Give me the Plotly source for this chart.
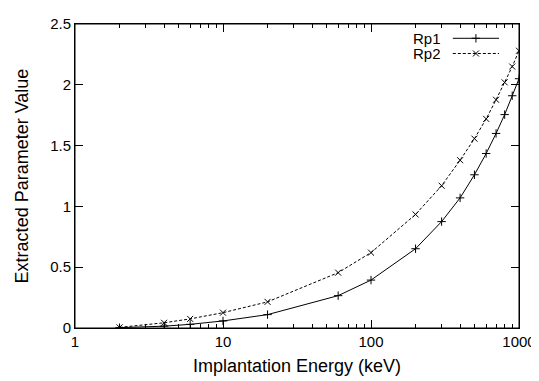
import plotly.graph_objects as go

energy = [2, 4, 6, 10, 20, 60, 100, 200, 300, 400, 500, 600, 700, 800, 900, 1000]
rp1 = [0.003, 0.015, 0.03, 0.058, 0.11, 0.266, 0.394, 0.652, 0.875, 1.07, 1.26, 1.435, 1.60, 1.755, 1.91, 2.05]
rp2 = [0.005, 0.043, 0.075, 0.126, 0.215, 0.455, 0.62, 0.934, 1.17, 1.38, 1.557, 1.72, 1.877, 2.02, 2.15, 2.28]
series_names = ["Rp1", "Rp2"]
x_tickvals = [1, 10, 100, 1000]
x_ticktext = ["1", "10", "100", "1000"]
y_tickvals = [0, 0.5, 1, 1.5, 2, 2.5]

FONT = "Liberation Sans, Arial, sans-serif"
FS = 15

fig = go.Figure()
fig.add_trace(go.Scatter(
    x=energy, y=rp1, mode="lines+markers", name=series_names[0],
    line=dict(color="black", width=1),
    marker=dict(symbol="cross-thin", size=6, line=dict(color="black", width=1)),
    showlegend=False))
fig.add_trace(go.Scatter(
    x=energy, y=rp2, mode="lines+markers", name=series_names[1],
    line=dict(color="black", width=1, dash="3px,2px"),
    marker=dict(symbol="x-thin", size=6, line=dict(color="black", width=1)),
    showlegend=False))

# legend samples (gnuplot style: text left, sample right) on an overlay axis
leg_y = [0.953, 0.903]
styles = [("solid", "cross-thin"), ("3px,2px", "x-thin")]
for name, ly, (dash, sym) in zip(series_names, leg_y, styles):
    fig.add_trace(go.Scatter(
        x=[0.851, 0.955], y=[ly, ly], mode="lines", xaxis="x2", yaxis="y2",
        line=dict(color="black", width=1, dash=dash), showlegend=False, hoverinfo="skip"))
    fig.add_trace(go.Scatter(
        x=[0.903], y=[ly], mode="markers", xaxis="x2", yaxis="y2",
        marker=dict(symbol=sym, size=6, line=dict(color="black", width=1)),
        showlegend=False, hoverinfo="skip"))
    fig.add_annotation(x=0.829, y=ly, xref="x2", yref="y2", text=name, showarrow=False,
                       xanchor="right", yanchor="middle", font=dict(family=FONT, size=FS, color="black"))

# plot border (gnuplot box)
fig.add_shape(type="rect", xref="paper", yref="paper", x0=0, x1=1, y0=0, y1=1,
              line=dict(color="black", width=1), fillcolor="rgba(0,0,0,0)", layer="above")

fig.update_layout(
    width=539, height=381,
    margin=dict(l=67, r=28, t=7, b=61),
    paper_bgcolor="white", plot_bgcolor="white",
    font=dict(family=FONT, size=FS, color="black"),
    showlegend=False,
    xaxis=dict(
        type="log", range=[0, 3], tickvals=x_tickvals, ticktext=x_ticktext,
        ticks="inside", ticklen=8, tickwidth=1, tickcolor="black",
        minor=dict(dtick="D1", ticks="inside", ticklen=4, tickwidth=1, tickcolor="black", showgrid=False),
        showline=True, linecolor="black", linewidth=1, mirror="allticks",
        showgrid=False, zeroline=False, ticklabeloverflow="allow",
        title=dict(text="Implantation Energy (keV)", standoff=10),
    ),
    yaxis=dict(
        range=[0, 2.5], tickvals=y_tickvals,
        ticks="inside", ticklen=8, tickwidth=1, tickcolor="black",
        showline=True, linecolor="black", linewidth=1, mirror="allticks",
        showgrid=False, zeroline=False, ticklabeloverflow="allow",
        title=dict(text="Extracted Parameter Value", standoff=16),
    ),
    xaxis2=dict(overlaying="x", range=[0, 1], visible=False, fixedrange=True),
    yaxis2=dict(overlaying="y", range=[0, 1], visible=False, fixedrange=True),
)

fig.write_html("out.html")
